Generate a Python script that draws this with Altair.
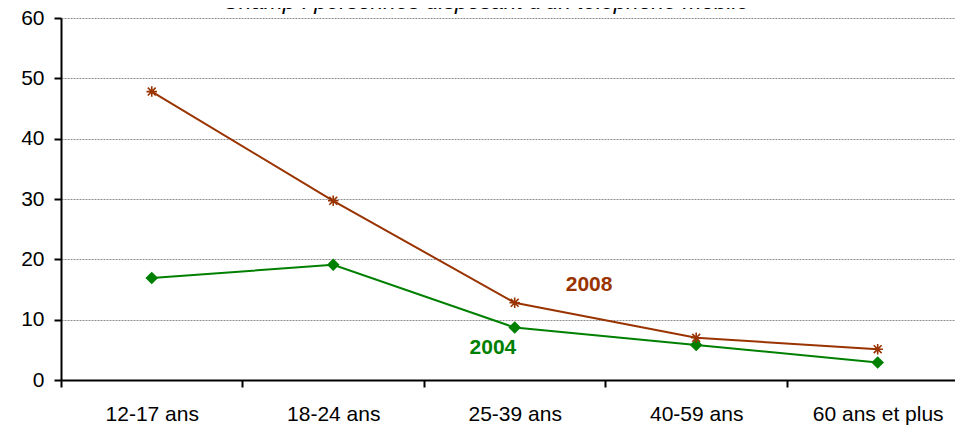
import json
import altair as alt
import pandas as pd

categories = ["12-17 ans", "18-24 ans", "25-39 ans", "40-59 ans", "60 ans et plus"]
values_2008 = [47.8, 29.7, 12.8, 7.0, 5.1]
values_2004 = [16.9, 19.1, 8.7, 5.8, 2.9]
series_names = ["2008", "2004"]
series_colors = ["#993300", "#008000"]
label_x = [2.41, 1.88]
label_y = [15.8, 5.3]
title_text = "Champ : personnes disposant d'un téléphone mobile"

rows = []
for i, c in enumerate(categories):
    rows.append({"i": i, "cat": c, "serie": "2008", "v": values_2008[i]})
    rows.append({"i": i, "cat": c, "serie": "2004", "v": values_2004[i]})
df = pd.DataFrame(rows)
labels_df = pd.DataFrame({"serie": series_names, "x": label_x, "y": label_y})
title_df = pd.DataFrame({"t": [title_text]})

FONT = "Liberation Sans"
x_scale = alt.Scale(domain=[-0.5, 4.426], nice=False, zero=False)
y_scale = alt.Scale(domain=[0, 60], nice=False)
color_scale = alt.Scale(domain=series_names, range=series_colors)

label_expr = "datum.value % 1 === 0 ? " + json.dumps(categories) + "[datum.value] : ''"
tick_values = [-0.5, 0, 0.5, 1, 1.5, 2, 2.5, 3, 3.5, 4]

x_axis = alt.Axis(
    values=tick_values, labelExpr=label_expr, title=None, grid=False,
    domainColor="black", domainWidth=2,
    tickColor={"condition": {"test": "datum.value % 1 !== 0", "value": "black"}, "value": "transparent"},
    tickSize=7, tickWidth=2, labelFont=FONT, labelFontSize=21, labelColor="black",
    labelPadding=16, labelFlush=False, labelOverlap=False, labelBound=False,
)
y_axis = alt.Axis(
    values=[0, 10, 20, 30, 40, 50, 60], title=None, grid=True,
    gridColor="#8c8c8c", gridDash=[2, 1], gridWidth=1,
    domainColor="black", domainWidth=2, tickColor="black", tickSize=7, tickWidth=2,
    labelFont=FONT, labelFontSize=21, labelColor="black", labelPadding=10,
)

base = alt.Chart(df).encode(
    x=alt.X("i:Q", scale=x_scale, axis=x_axis),
    y=alt.Y("v:Q", scale=y_scale, axis=y_axis),
    color=alt.Color("serie:N", scale=color_scale, legend=None),
)

lines = base.mark_line(strokeWidth=2)
pts_2004 = base.transform_filter("datum.serie == '2004'").mark_point(
    shape="diamond", filled=True, size=160, opacity=1)
asterisk = "M-1,0L1,0M0,-1L0,1M-0.75,-0.75L0.75,0.75M-0.75,0.75L0.75,-0.75"
pts_2008 = base.transform_filter("datum.serie == '2008'").mark_point(
    shape=asterisk, filled=False, size=110, strokeWidth=1.6, opacity=1)

texts = alt.Chart(labels_df).mark_text(
    font=FONT, fontSize=21, fontWeight="bold"
).encode(
    x=alt.X("x:Q", scale=x_scale),
    y=alt.Y("y:Q", scale=y_scale),
    text="serie:N",
    color=alt.Color("serie:N", scale=color_scale, legend=None),
)

title_mark = alt.Chart(title_df).mark_text(
    font=FONT, fontSize=22.6, fontStyle="italic", color="black",
    align="center", baseline="alphabetic",
).encode(
    text="t:N",
    x=alt.value(425),
    y=alt.value(-9),
)

chart = alt.layer(lines, pts_2004, pts_2008, texts, title_mark).properties(
    width=894, height=362,
    autosize=alt.AutoSizeParams(type="none"),
    padding={"left": 53, "top": 10, "right": 0, "bottom": 47},
    background="white",
).configure_view(stroke=None)

chart.save("out.html", embed_options={"renderer": "svg", "actions": False})
